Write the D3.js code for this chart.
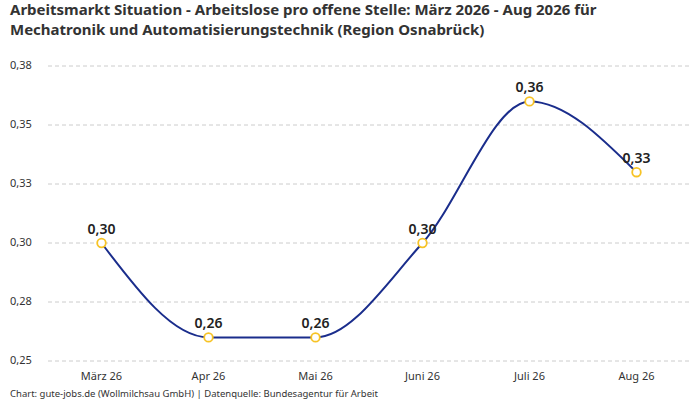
<!DOCTYPE html>
<html>
<head>
<meta charset="utf-8">
<script src="https://cdn.jsdelivr.net/npm/d3@7"></script>
<style>
  body { margin: 0; background: #fff; font-family: 'Noto Sans', 'Open Sans', sans-serif; }
</style>
</head>
<body>
<svg id="chart" width="700" height="400"></svg>
<script>
const months = ['März 26', 'Apr 26', 'Mai 26', 'Juni 26', 'Juli 26', 'Aug 26'];
const values = [0.30, 0.26, 0.26, 0.30, 0.36, 0.33];
const yTicks = [0.25, 0.275, 0.30, 0.325, 0.35, 0.375];
const yTickLabels = ['0,25', '0,28', '0,30', '0,33', '0,35', '0,38'];

const svg = d3.select('#chart');
const margin = { left: 48, right: 10, top: 66, bottom: 39 };
const width = 700, height = 400;

const x = d3.scaleBand()
  .domain(months)
  .range([margin.left, width - margin.right]);

const y = d3.scaleLinear()
  .domain([0.25, 0.375])
  .range([height - margin.bottom, margin.top]);

// title
svg.append('text')
  .attr('x', 10).attr('y', 15)
  .style('font-size', '15px').style('font-weight', 'bold').style('fill', '#333')
  .text('Arbeitsmarkt Situation - Arbeitslose pro offene Stelle: März 2026 - Aug 2026 für');
svg.append('text')
  .attr('x', 10).attr('y', 35)
  .style('font-size', '15px').style('font-weight', 'bold').style('fill', '#333')
  .text('Mechatronik und Automatisierungstechnik (Region Osnabrück)');

// grid
svg.append('g')
  .selectAll('line')
  .data(yTicks)
  .join('line')
  .attr('x1', margin.left).attr('x2', width - margin.right)
  .attr('y1', d => y(d)).attr('y2', d => y(d))
  .attr('stroke', '#ccc')
  .attr('stroke-dasharray', '4,3');

// y labels
svg.append('g')
  .selectAll('text')
  .data(yTicks)
  .join('text')
  .attr('x', 10)
  .attr('y', d => y(d))
  .attr('dominant-baseline', 'middle')
  .style('font-size', '11px').style('fill', '#333')
  .text((d, i) => yTickLabels[i]);

// x labels
svg.append('g')
  .selectAll('text')
  .data(months)
  .join('text')
  .attr('x', d => x(d) + x.bandwidth() / 2)
  .attr('y', 380)
  .attr('text-anchor', 'middle')
  .style('font-size', '11px').style('fill', '#333')
  .text(d => d);

const pts = months.map((m, i) => ({ m, v: values[i] }));

// line
svg.append('path')
  .datum(pts)
  .attr('fill', 'none')
  .attr('stroke', '#1a2d8c')
  .attr('stroke-width', 2)
  .attr('d', d3.line()
    .x(d => x(d.m) + x.bandwidth() / 2)
    .y(d => y(d.v))
    .curve(d3.curveMonotoneX));

// points
svg.append('g')
  .selectAll('circle')
  .data(pts)
  .join('circle')
  .attr('cx', d => x(d.m) + x.bandwidth() / 2)
  .attr('cy', d => y(d.v))
  .attr('r', 4.3)
  .attr('fill', '#fff')
  .attr('stroke', '#f7c325')
  .attr('stroke-width', 1.8);

// value labels
svg.append('g')
  .selectAll('text')
  .data(pts)
  .join('text')
  .attr('x', d => x(d.m) + x.bandwidth() / 2)
  .attr('y', d => y(d.v) - 9)
  .attr('text-anchor', 'middle')
  .style('font-size', '14px').style('font-weight', '600').style('fill', '#222')
  .text(d => d3.format('.2f')(d.v).replace('.', ','));

// footer
svg.append('text')
  .attr('x', 10).attr('y', 397)
  .style('font-size', '9.5px').style('fill', '#333')
  .text('Chart: gute-jobs.de (Wollmilchsau GmbH) | Datenquelle: Bundesagentur für Arbeit');
</script>
</body>
</html>
